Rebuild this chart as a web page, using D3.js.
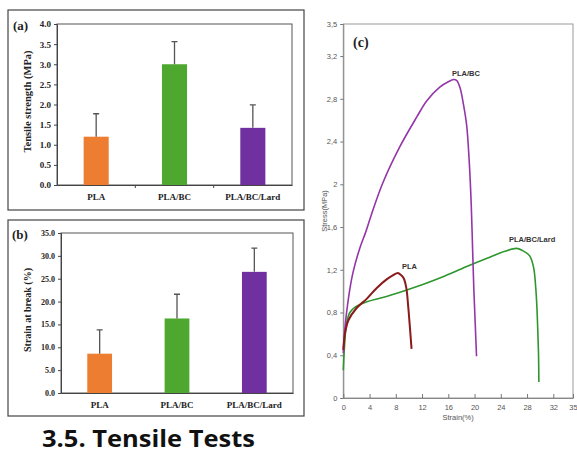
<!DOCTYPE html>
<html>
<head>
<meta charset="UTF-8" />
<script src="https://cdn.jsdelivr.net/npm/d3@7"></script>
<title>Tensile Tests</title>
<style>
  body { margin: 0; background: white; }
  svg { display: block; }
  .serif { font-family: "Liberation Serif", "DejaVu Serif", serif; font-weight: bold; }
  .sans { font-family: "Liberation Sans", "DejaVu Sans", sans-serif; }
</style>
</head>
<body>
<div id="chart"></div>
<script>
// bar panels
const categories = ["PLA", "PLA/BC", "PLA/BC/Lard"];
const barColors = ["#ED7D31", "#4EA72E", "#7030A0"];
const tensileMean = [1.2, 3.0, 1.42];
const tensileErr = [0.57, 0.56, 0.57];
const tensileTicks = [0, 0.5, 1, 1.5, 2, 2.5, 3, 3.5, 4];
const strainMean = [8.6, 16.3, 26.5];
const strainErr = [5.2, 5.3, 5.2];
const strainTicks = [0, 5, 10, 15, 20, 25, 30, 35];

// stress-strain curves, [strain %, stress MPa]
const plaCurve = [[0, 0.45], [0.3, 0.62], [0.8, 0.73], [2.0, 0.84], [3.6, 0.93], [5.1, 1.03],
  [6.6, 1.11], [7.6, 1.15], [8.3, 1.17], [8.8, 1.15], [9.2, 1.12], [9.6, 1.03], [9.9, 0.85],
  [10.1, 0.7], [10.4, 0.46]];
const plaBcCurve = [[0, 0.42], [0.2, 0.62], [0.5, 0.8], [1.0, 1.02], [1.5, 1.18], [2.5, 1.4],
  [3.4, 1.55], [4.3, 1.72], [6.0, 2.01], [8.6, 2.35], [11.2, 2.63], [12.7, 2.78], [14.7, 2.91],
  [16.0, 2.96], [16.8, 2.98], [17.3, 2.97], [17.8, 2.9], [18.3, 2.75], [18.8, 2.55],
  [19.2, 2.2], [19.5, 1.8], [19.7, 1.4], [19.9, 1.0], [20.1, 0.7], [20.3, 0.39]];
const plaBcLardCurve = [[0, 0.26], [0.2, 0.5], [0.5, 0.7], [1.0, 0.8], [1.8, 0.85], [3.6, 0.9],
  [6.0, 0.94], [9.1, 1.0], [12, 1.06], [15, 1.13], [18.8, 1.23], [22, 1.31], [24.5, 1.37],
  [26.4, 1.4], [27.3, 1.38], [28.4, 1.33], [29.0, 1.22], [29.3, 1.05], [29.5, 0.85],
  [29.65, 0.6], [29.75, 0.4], [29.8, 0.15]];
const curveColors = ["#8B1A1A", "#9536A8", "#2E962E"];
const curveLabels = ["PLA", "PLA/BC", "PLA/BC/Lard"];
const stressTicks = [0, 0.4, 0.8, 1.2, 1.6, 2, 2.4, 2.8, 3.2, 3.5];
const strainPctTicks = [0, 4, 8, 12, 16, 20, 24, 28, 32, 35];

const W = 577, H = 454;
const svg = d3.select("#chart").append("svg").attr("width", W).attr("height", H);
svg.append("rect").attr("width", W).attr("height", H).attr("fill", "white");

function barPanel(o) {
  const g = svg.append("g");
  g.append("rect").attr("x", o.box[0]).attr("y", o.box[1]).attr("width", o.box[2]).attr("height", o.box[3])
    .attr("fill", "none").attr("stroke", "#444").attr("stroke-width", 1.2);
  const x = d3.scaleBand().domain(categories).range([o.left, o.right]).paddingInner(0.68).paddingOuter(0.34);
  const y = d3.scaleLinear().domain([0, o.max]).range([o.bottom, o.top]);
  // frame
  g.append("rect").attr("x", o.left).attr("y", o.top).attr("width", o.right - o.left).attr("height", o.bottom - o.top)
    .attr("fill", "none").attr("stroke", "#555").attr("stroke-width", 1);
  g.selectAll(".bar").data(o.mean).enter().append("rect")
    .attr("x", (d, i) => x(categories[i])).attr("width", x.bandwidth())
    .attr("y", d => y(d)).attr("height", d => o.bottom - y(d))
    .attr("fill", (d, i) => barColors[i]);
  g.selectAll(".err").data(o.mean).enter().append("path")
    .attr("d", (d, i) => {
      const cx = x(categories[i]) + x.bandwidth() / 2;
      const t = y(d + o.err[i]);
      return "M" + cx + "," + y(d) + "V" + t + "M" + (cx - 3) + "," + t + "H" + (cx + 3);
    })
    .attr("stroke", "#555").attr("stroke-width", 1.3).attr("fill", "none");
  const yAxis = d3.axisLeft(y).tickValues(o.ticks).tickSize(3).tickFormat(d3.format(".1f"));
  const ya = g.append("g").attr("transform", "translate(" + o.left + ",0)").call(yAxis);
  ya.select(".domain").attr("stroke", "#444");
  ya.selectAll("line").attr("stroke", "#444");
  ya.selectAll("text").attr("class", "serif").attr("font-size", o.tickFont).attr("fill", "#222");
  const xa = g.append("g").attr("transform", "translate(0," + o.bottom + ")")
    .call(d3.axisBottom(x).tickSize(0).tickPadding(o.xPad));
  xa.select(".domain").attr("stroke", "#444").attr("stroke-width", 1.2);
  xa.selectAll("text").attr("class", "serif").attr("font-size", 9).attr("fill", "#222");
  if (o.boundaryTicks) {
    g.selectAll(".bt").data(categories.slice(1)).enter().append("line")
      .attr("x1", d => x(d) - x.step() * x.paddingInner() / 2).attr("x2", d => x(d) - x.step() * x.paddingInner() / 2)
      .attr("y1", o.bottom).attr("y2", o.bottom + 3).attr("stroke", "#444");
  }
  g.append("text").attr("class", "serif").attr("font-size", o.labelFont).attr("fill", "#222")
    .attr("text-anchor", "middle")
    .attr("transform", "translate(" + o.labelX + "," + ((o.top + o.bottom) / 2 - 3) + ") rotate(-90)")
    .text(o.label);
  g.append("text").attr("class", "serif").attr("font-size", 13).attr("fill", "#222")
    .attr("x", o.tagX).attr("y", o.tagY).text(o.tag);
}

barPanel({
  box: [8, 10, 296, 200], left: 57, right: 292, top: 24, bottom: 185, max: 4,
  mean: tensileMean, err: tensileErr, ticks: tensileTicks, tickFont: 9, xPad: 9,
  boundaryTicks: true, label: "Tensile strength (MPa)", labelFont: 10.5, labelX: 31,
  tag: "(a)", tagX: 13, tagY: 30
});
barPanel({
  box: [8, 220, 296, 196], left: 61, right: 293, top: 233, bottom: 393, max: 35,
  mean: strainMean, err: strainErr, ticks: strainTicks, tickFont: 8, xPad: 9,
  boundaryTicks: false, label: "Strain at break (%)", labelFont: 10, labelX: 31,
  tag: "(b)", tagX: 12, tagY: 239
});

// panel (c)
const cx = d3.scaleLinear().domain([0, 35]).range([343.3, 573]);
const cy = d3.scaleLinear().domain([0, 3.5]).range([398, 24]);
const gc = svg.append("g");
gc.append("rect").attr("x", cx(0)).attr("y", cy(3.5)).attr("width", cx(35) - cx(0)).attr("height", cy(0) - cy(3.5))
  .attr("fill", "none").attr("stroke", "#999").attr("stroke-width", 1);
const cyAxis = gc.append("g").attr("transform", "translate(" + cx(0) + ",0)")
  .call(d3.axisLeft(cy).tickValues(stressTicks).tickSize(3).tickPadding(3)
    .tickFormat(d => String(d).replace(".", ",")));
const cxAxis = gc.append("g").attr("transform", "translate(0," + cy(0) + ")")
  .call(d3.axisBottom(cx).tickValues(strainPctTicks).tickSizeInner(-4).tickSizeOuter(0).tickPadding(7));
[cyAxis, cxAxis].forEach(a => {
  a.select(".domain").attr("stroke", "#888");
  a.selectAll("line").attr("stroke", "#777");
  a.selectAll("text").attr("class", "sans").attr("font-size", 7.5).attr("fill", "#555");
});
const line = d3.line().x(d => cx(d[0])).y(d => cy(d[1])).curve(d3.curveCatmullRom.alpha(0.5));
[plaBcLardCurve, plaBcCurve, plaCurve].forEach((c, i) => {
  const col = [curveColors[2], curveColors[1], curveColors[0]][i];
  gc.append("path").datum(c).attr("d", line).attr("fill", "none")
    .attr("stroke", col).attr("stroke-width", i === 2 ? 2 : 1.6);
});
const labelPos = [[402, 269], [452, 76], [509, 242]];
curveLabels.forEach((t, i) => {
  gc.append("text").attr("class", "sans").attr("font-size", 7.5).attr("font-weight", "bold")
    .attr("fill", "#333").attr("x", labelPos[i][0]).attr("y", labelPos[i][1]).text(t);
});
gc.append("text").attr("class", "sans").attr("font-size", 7.5).attr("fill", "#555")
  .attr("text-anchor", "middle").attr("x", cx(17.5)).attr("y", 420).text("Strain(%)");
gc.append("text").attr("class", "sans").attr("font-size", 7.5).attr("fill", "#555")
  .attr("text-anchor", "middle").attr("transform", "translate(327," + cy(1.75) + ") rotate(-90)")
  .text("Stress(MPa)");
gc.append("text").attr("class", "serif").attr("font-size", 14).attr("fill", "#222")
  .attr("x", 353).attr("y", 47).text("(c)");

// heading
svg.append("text").attr("x", 42).attr("y", 447)
  .attr("font-family", "'Open Sans', 'Noto Sans', sans-serif").attr("font-weight", "bold")
  .attr("font-size", 24).attr("fill", "#111").attr("textLength", 213).attr("lengthAdjust", "spacingAndGlyphs")
  .text("3.5. Tensile Tests");
</script>
</body>
</html>
